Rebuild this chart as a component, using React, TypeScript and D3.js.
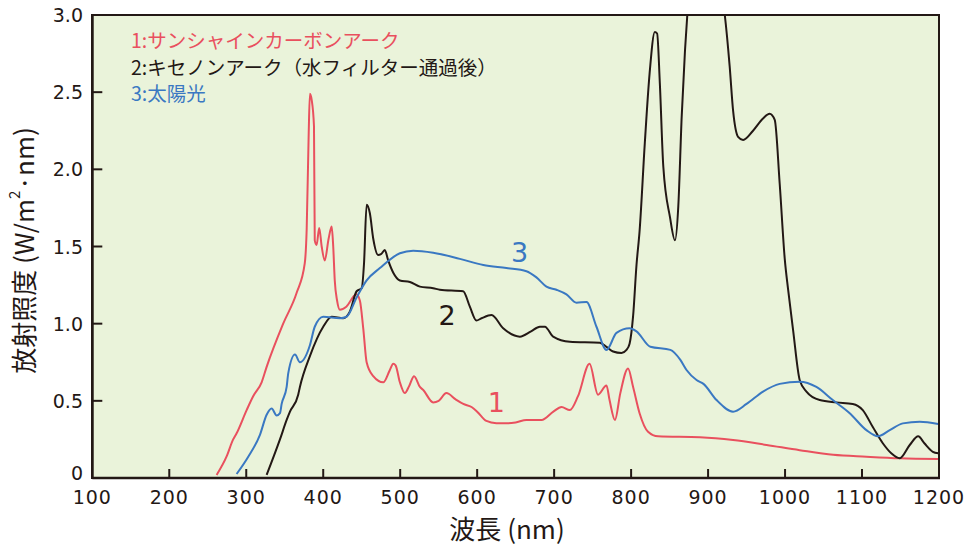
import React from "react";
import * as d3 from "d3";

const xTicks = [100, 200, 300, 400, 500, 600, 700, 800, 900, 1000, 1100, 1200];
const yTicks = [0, 0.5, 1.0, 1.5, 2.0, 2.5, 3.0];
const yTickLabels = ["0", "0.5", "1.0", "1.5", "2.0", "2.5", "3.0"];

const legendLabels = [
  "1:サンシャインカーボンアーク",
  "2:キセノンアーク（水フィルター通過後）",
  "3:太陽光",
];
const curveNumbers = ["1", "2", "3"];

// series 1: sunshine carbon arc [nm, W/m²·nm]
const carbonArc: [number, number][] = [
  [261.5, 0.02], [274.5, 0.14], [283, 0.25], [287.5, 0.29], [300.5, 0.44], [309, 0.53],
  [320, 0.62], [326.5, 0.72], [348, 1.0], [365.5, 1.2], [376, 1.39], [378.5, 1.61],
  [381, 2.2], [382.7, 2.49], [385, 2.45], [388, 2.28], [389, 1.54], [391.4, 1.51],
  [394.8, 1.62], [398, 1.5], [402, 1.41], [407, 1.55], [411, 1.63], [413, 1.5],
  [415, 1.28], [418, 1.15], [421.7, 1.09], [430, 1.11], [443, 1.19], [447.6, 1.15],
  [452, 0.97], [456.4, 0.75], [465, 0.66], [478, 0.62], [486.6, 0.7], [491, 0.74],
  [494, 0.73], [499.6, 0.62], [506, 0.55], [512, 0.6], [518, 0.66], [525.6, 0.59],
  [530, 0.57], [542.8, 0.49], [550, 0.5], [560, 0.55], [572, 0.51], [582, 0.48],
  [592.7, 0.46], [600, 0.43], [612, 0.37], [625, 0.355], [638, 0.354], [650, 0.36],
  [664, 0.376], [683.6, 0.376], [699, 0.43], [709.6, 0.46], [720.4, 0.44], [731, 0.53],
  [746, 0.74], [757, 0.54], [768, 0.6], [772, 0.505], [779, 0.376], [786, 0.55],
  [796, 0.71], [802.6, 0.59], [811, 0.42], [822, 0.3], [835, 0.27], [889.5, 0.264],
  [932.5, 0.246], [976, 0.214], [1019, 0.18], [1062.5, 0.15], [1105.7, 0.138],
  [1149, 0.128], [1199, 0.123],
];

// series 2: xenon arc (after water filter)
const xenonArc: [number, number][] = [
  [326.5, 0.02], [343.8, 0.25], [352.5, 0.376], [356.8, 0.43], [367.5, 0.54], [369.7, 0.59],
  [382.7, 0.79], [400, 0.98], [411, 1.045], [426, 1.035], [434.7, 1.08], [443.4, 1.21],
  [450, 1.23], [453, 1.39], [456.4, 1.77], [460.6, 1.715], [465, 1.55], [471.4, 1.445],
  [475, 1.45], [480, 1.477], [484.4, 1.41], [491, 1.33], [499.6, 1.28], [512.6, 1.27],
  [525.6, 1.24], [542.9, 1.23], [551.5, 1.22], [581.8, 1.21], [590.5, 1.11], [599, 1.02],
  [605.7, 1.035], [618.7, 1.056], [633.8, 0.97], [655.5, 0.916], [670, 0.95], [681.4, 0.98],
  [688, 0.98], [698.7, 0.916], [720.4, 0.883], [759.4, 0.877], [768, 0.85], [776.6, 0.82],
  [787.5, 0.81], [794, 0.83], [798, 0.87], [802.6, 1.05], [807, 1.38], [811, 1.6],
  [817.8, 2.17], [824, 2.62], [830.8, 2.89], [833.8, 2.88], [837.3, 2.56], [841.8, 2.02],
  [850.5, 1.69], [857, 1.54], [861.3, 1.76], [865.7, 2.34], [870, 2.77], [873, 3.0],
  [880, 3.3], [895, 3.45], [910, 3.3], [921.7, 3.0], [928, 2.67], [932.5, 2.38],
  [939, 2.21], [945.5, 2.19], [958.4, 2.25], [971.4, 2.33], [980, 2.36], [986.6, 2.32],
  [993, 1.91], [999.6, 1.42], [1004, 1.22], [1010.4, 0.96], [1019, 0.635], [1027.8, 0.56],
  [1045, 0.505], [1066.7, 0.49], [1088, 0.48], [1101, 0.44], [1114, 0.33], [1127, 0.225],
  [1138, 0.16], [1149, 0.128], [1162, 0.214], [1173, 0.27], [1181, 0.225], [1192, 0.17],
  [1199, 0.16],
];

// series 3: sunlight
const sunlight: [number, number][] = [
  [287.5, 0.026], [302.6, 0.138], [317.8, 0.28], [326.5, 0.41], [333, 0.45], [339.5, 0.405],
  [343.8, 0.42], [346, 0.48], [352.5, 0.59], [354.6, 0.68], [363.3, 0.8], [369.7, 0.75],
  [382.7, 0.86], [389, 0.98], [400, 1.045], [421.7, 1.035], [430.4, 1.045], [443.4, 1.17],
  [456.4, 1.28], [473.6, 1.36], [499.6, 1.456], [516.9, 1.473], [542.9, 1.46], [577.5, 1.42],
  [608, 1.38], [638, 1.36], [664, 1.34], [677, 1.3], [690, 1.24], [703, 1.22],
  [716, 1.19], [729, 1.136], [742, 1.14], [755, 0.98], [768, 0.83], [781, 0.94],
  [798, 0.97], [807, 0.95], [825, 0.85], [851, 0.83], [864, 0.765], [872, 0.7],
  [885, 0.635], [894, 0.61], [911, 0.505], [932.5, 0.43], [950, 0.48], [971.4, 0.56],
  [993, 0.61], [1019, 0.624], [1040.7, 0.59], [1062, 0.505], [1084, 0.42], [1105.7, 0.31],
  [1120.8, 0.27], [1136, 0.31], [1153, 0.354], [1175, 0.365], [1199, 0.35],
];

const RED = "#e9505e";
const BLACK = "#231815";
const BLUE = "#3a78c2";
const BG = "#eaf3da";

export default function App() {
  const W = 972, H = 551;
  const left = 92.3, right = 939, top = 15, bottom = 478;
  const x = d3.scaleLinear().domain([100, 1200]).range([left, right]);
  const y = d3.scaleLinear().domain([0, 3]).range([bottom, top]);
  const line = d3
    .line<[number, number]>()
    .x((d) => x(d[0]))
    .y((d) => y(d[1]))
    .curve(d3.curveMonotoneX);

  const series = [
    { data: carbonArc, color: RED },
    { data: xenonArc, color: BLACK },
    { data: sunlight, color: BLUE },
  ];
  const legendColors = [RED, BLACK, BLUE];
  const numberPos: [number, number][] = [
    [625, 0.43],
    [561, 0.99],
    [655, 1.4],
  ];
  const numFont = "'DejaVu Sans', sans-serif";
  const jpFont = "'Noto Sans CJK JP', sans-serif";

  return (
    <svg
      width={W}
      height={H}
      style={{ position: "absolute", left: 0, top: 0, display: "block", background: "#fff" }}
    >
      <defs>
        <clipPath id="plotClip">
          <rect x={left} y={top} width={right - left} height={bottom - top} />
        </clipPath>
      </defs>
      <rect x={left} y={top} width={right - left} height={bottom - top} fill={BG} />
      <g clipPath="url(#plotClip)">
        {series.map((s, i) => (
          <path key={i} d={line(s.data) || ""} fill="none" stroke={s.color} strokeWidth={2} strokeLinejoin="round" />
        ))}
      </g>
      {/* frame */}
      <rect x={left} y={top} width={right - left} height={bottom - top} fill="none" stroke={BLACK} strokeWidth={2} />
      <line x1={left} x2={right + 1} y1={bottom} y2={bottom} stroke={BLACK} strokeWidth={2.6} />
      <line x1={left} x2={left} y1={top - 1} y2={bottom + 1} stroke={BLACK} strokeWidth={2.6} />
      {/* x ticks */}
      {xTicks.map((t) => (
        <g key={"x" + t}>
          {t > 100 && t < 1200 && (
            <line x1={x(t)} x2={x(t)} y1={bottom} y2={bottom - 9} stroke={BLACK} strokeWidth={2} />
          )}
          <text
            x={x(t)}
            y={504}
            textAnchor="middle"
            fontFamily={numFont}
            fontSize={19}
            letterSpacing={1}
            fill={BLACK}
          >
            {t}
          </text>
        </g>
      ))}
      {/* y ticks */}
      {yTicks.map((t, i) => (
        <g key={"y" + t}>
          {t > 0 && t < 3 && (
            <line x1={left} x2={left + 10} y1={y(t)} y2={y(t)} stroke={BLACK} strokeWidth={2} />
          )}
          <text
            x={83}
            y={y(t) + (t === 0 ? 2 : 7)}
            textAnchor="end"
            fontFamily={numFont}
            fontSize={19}
            fill={BLACK}
          >
            {yTickLabels[i]}
          </text>
        </g>
      ))}
      {/* axis titles */}
      <text x={507} y={539} textAnchor="middle" fontFamily={jpFont} fontSize={26} fill={BLACK}>
        波長 (nm)
      </text>
      <text
        transform={`translate(22, ${(top + bottom) / 2 + 4}) rotate(-90)`}
        textAnchor="middle"
        dominantBaseline="central"
        fontFamily={jpFont}
        fontSize={26}
        fill={BLACK}
      >
        放射照度 (W/m<tspan fontSize={15} dy={-9}>2</tspan><tspan dy={9}>·nm)</tspan>
      </text>
      {/* legend */}
      {legendLabels.map((l, i) => (
        <text key={l} x={131} y={48 + i * 26.5} fontFamily={jpFont} fontSize={19.5} fill={legendColors[i]}>
          {l}
        </text>
      ))}
      {/* curve numbers */}
      {curveNumbers.map((n, i) => (
        <text
          key={"n" + n}
          x={x(numberPos[i][0])}
          y={y(numberPos[i][1])}
          textAnchor="middle"
          fontFamily={numFont}
          fontSize={27}
          fill={legendColors[i]}
        >
          {n}
        </text>
      ))}
    </svg>
  );
}
